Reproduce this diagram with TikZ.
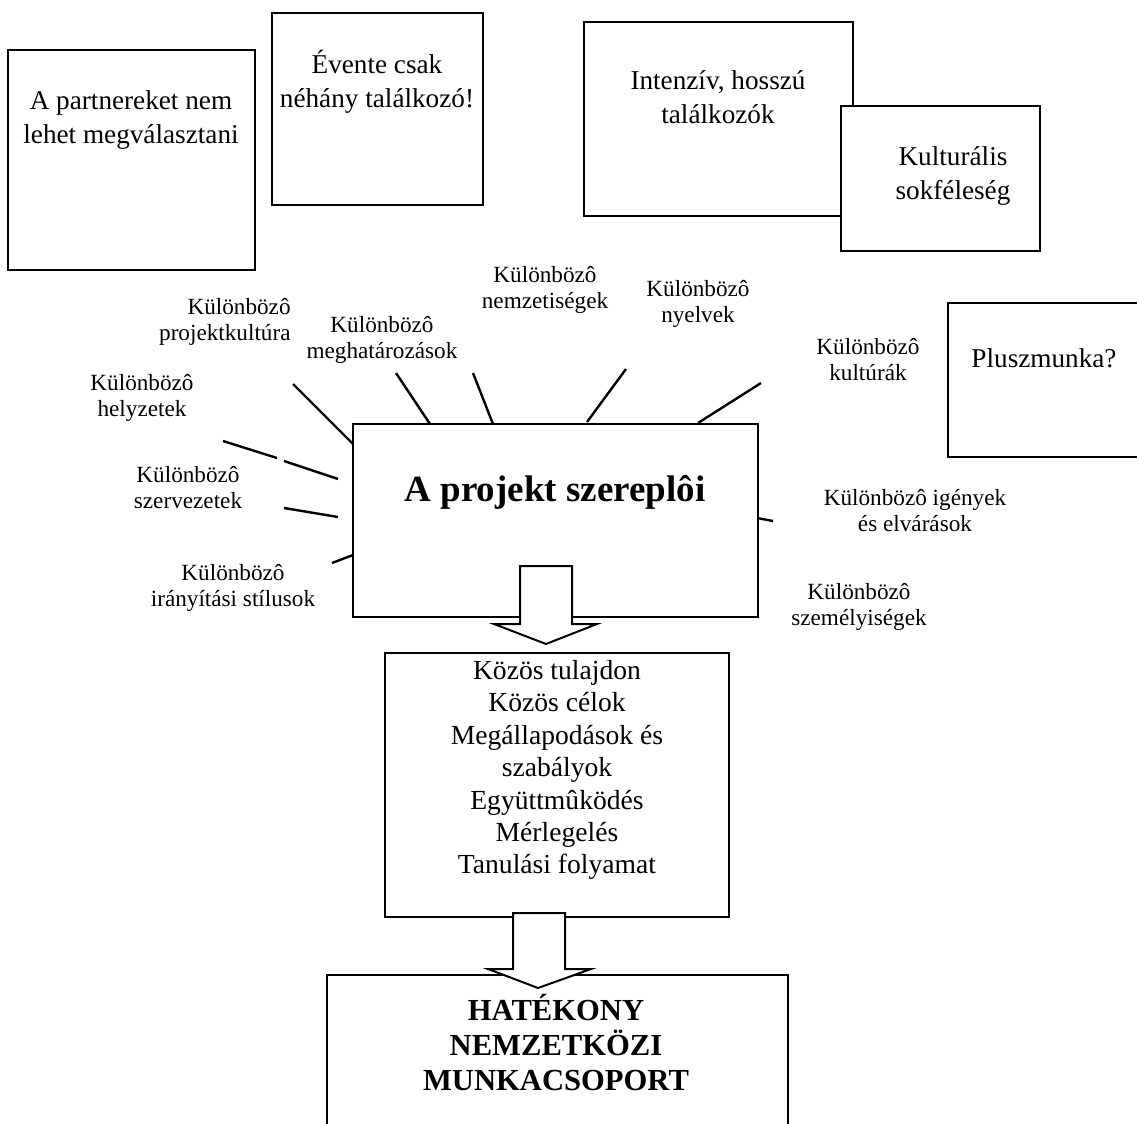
\documentclass[tikz,border=0pt]{standalone}
\usepackage{fontspec}
\setmainfont{Liberation Serif}
\begin{document}
\begin{tikzpicture}[x=0.5pt,y=-0.5pt,
  box/.style={draw,line width=1pt,fill=white},
  spoke/.style={line width=1.2pt},
  blockarrow/.style={draw,line width=1pt,fill=white},
  big/.style={align=center,inner sep=0pt,font=\fontsize{13.6}{16.8}\selectfont},
  small/.style={align=center,inner sep=0pt,font=\fontsize{11.6}{13}\selectfont}]
\clip (0,0) rectangle (1137,1124);
\fill[white] (0,0) rectangle (1137,1124);

% top boxes
\draw[box] (8,50) rectangle (255,270);
\node[big] (partners) at (131,120) {A partnereket nem\\lehet megválasztani};
\draw[box] (272,13) rectangle (483,205);
\node[big] (meetings) at (377,82) {Évente csak\\néhány találkozó!};
\draw[box] (584,22) rectangle (853,216);
\node[big] (intensive) at (718,97) {Intenzív, hosszú\\találkozók};
\draw[box] (841,106) rectangle (1040,251);
\node[big] (diversity) at (953,176) {Kulturális\\sokféleség};
\draw[box] (1150,303) -- (948,303) -- (948,457) -- (1150,457);
\node[big] (extrawork) at (1044,358) {Pluszmunka?};

% spokes
\draw[spoke] (293,384) -- (353,444);
\draw[spoke] (223,441) -- (277,458);
\draw[spoke] (284,461) -- (338,479);
\draw[spoke] (284,508) -- (338,517);
\draw[spoke] (332,563) -- (353,555);
\draw[spoke] (396,373) -- (430,424);
\draw[spoke] (473,373) -- (493,424);
\draw[spoke] (626,369) -- (587,422);
\draw[spoke] (761,383) -- (698,423);
\draw[spoke] (757,518) -- (773,521);

% labels
\begin{scope}
\clip (0,290) rectangle (290,350);
\node[small,align=right,anchor=east] (projcult) at (291,322) {Különbözô\\projektkultúra};
\end{scope}
\node[small] (definitions) at (382,340) {Különbözô\\meghatározások};
\node[small] (nations) at (545,290) {Különbözô\\nemzetiségek};
\node[small] (languages) at (698,304) {Különbözô\\nyelvek};
\node[small] (cultures) at (868,360) {Különbözô\\kultúrák};
\node[small] (needs) at (915,511) {Különbözô igények\\és elvárások};
\node[small] (persons) at (859,607) {Különbözô\\személyiségek};
\node[small] (situations) at (142,398) {Különbözô\\helyzetek};
\node[small] (organisations) at (188,488) {Különbözô\\szervezetek};
\node[small] (styles) at (233,588) {Különbözô\\irányítási stílusok};

% centre
\draw[box] (353,424) rectangle (758,617);
\node[inner sep=0pt,font=\fontsize{18.5}{22}\selectfont\bfseries] (actors) at (555,492) {A projekt szereplôi};
\draw[blockarrow] (520,566) -- (572,566) -- (572,624) -- (597,624) -- (546,644) -- (494,624) -- (520,624) -- cycle;

\draw[box] (385,653) rectangle (729,917);
\node[big,font=\fontsize{13.8}{16.2}\selectfont] (common) at (557,770) {Közös tulajdon\\Közös célok\\Megállapodások és\\szabályok\\Együttmûködés\\Mérlegelés\\Tanulási folyamat};

% result
\draw[line width=1pt] (327,1130) -- (327,975) -- (788,975) -- (788,1130);
\draw[blockarrow] (513,913) -- (565,913) -- (565,969) -- (591,969) -- (538,988) -- (488,969) -- (513,969) -- cycle;
\node[align=center,inner sep=0pt,font=\fontsize{15.3}{17.5}\selectfont\bfseries] (team) at (556,1043) {HATÉKONY\\NEMZETKÖZI\\MUNKACSOPORT};
\end{tikzpicture}
\end{document}
